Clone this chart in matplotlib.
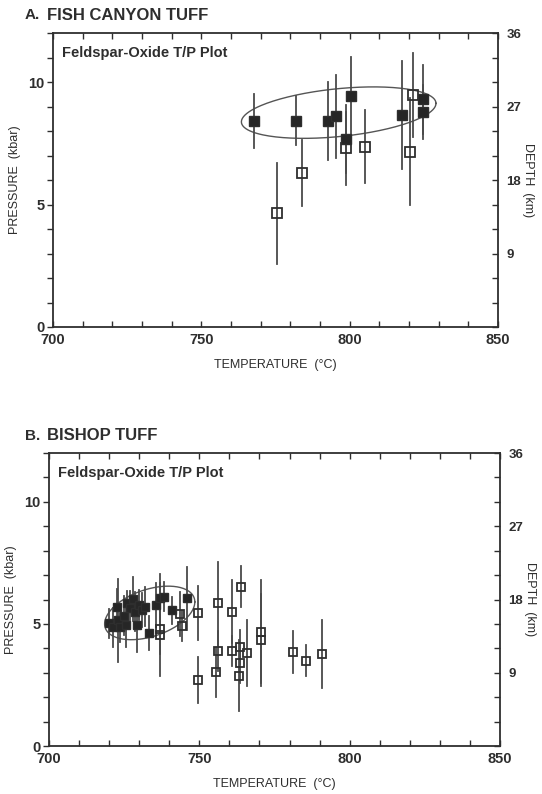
import numpy as np
import matplotlib
matplotlib.use("Agg")
import matplotlib.pyplot as plt
from matplotlib.ticker import FixedLocator, FuncFormatter

plt.rcParams["font.family"] = ["Liberation Sans", "DejaVu Sans"]
plt.rcParams["font.weight"] = "bold"

INK = "#2e2e2e"
BAR = "#4a4a4a"

# ---- panel A: Fish Canyon Tuff ----
a_fill_T = [767.8, 781.8, 792.7, 795.5, 800.6, 798.9, 817.6, 824.8, 824.8]
a_fill_P = [8.42, 8.42, 8.40, 8.60, 9.43, 7.67, 8.65, 9.29, 8.79]
a_fill_E = [1.1, 1.0, 1.6, 1.7, 1.6, 1.4, 2.2, 1.4, 1.1]

a_open_T = [821.5, 798.9, 805.0, 784.0, 775.6, 820.3]
a_open_P = [9.47, 7.29, 7.36, 6.27, 4.64, 7.16]
a_open_E = [1.7, 1.5, 1.5, 1.35, 2.05, 2.2]

# ellipse: centre T, centre P, half-width (degC), half-height (kbar), tilt (kbar/degC)
a_ell = (796.3, 8.75, 32.8, 0.98, 0.0115)

# ---- panel B: Bishop Tuff ----
b_fill_T = [720.1, 721.4, 722.6, 723.1, 723.7, 724.8, 725.7, 726.1, 727.0, 727.9,
            728.7, 729.2, 729.8, 730.9, 732.0, 733.1, 735.7, 737.0, 738.1, 740.9, 745.9]
b_fill_P = [5.03, 4.86, 5.71, 5.16, 4.86, 5.33, 4.96, 5.85, 5.64, 6.01,
            5.50, 4.96, 5.78, 5.57, 5.71, 4.62, 5.78, 6.05, 6.12, 5.55, 6.05]
b_fill_E = [0.6, 0.8, 0.7, 1.7, 0.6, 0.8, 0.9, 0.5, 0.7, 0.9,
            0.8, 1.1, 0.6, 0.7, 0.8, 0.7, 0.9, 1.0, 0.6, 0.55, 1.3]

b_open_T = [737.0, 737.0, 743.7, 744.4, 749.4, 749.4, 756.2, 756.2, 755.6, 760.7,
            763.7, 760.9, 763.4, 763.4, 763.3, 765.7, 770.6, 770.6, 781.1, 785.6, 790.7]
b_open_P = [4.78, 4.55, 5.41, 4.92, 5.46, 2.70, 5.85, 3.89, 3.02, 5.50,
            6.53, 3.89, 4.05, 3.39, 2.88, 3.80, 4.68, 4.34, 3.84, 3.50, 3.77]
b_open_E = [1.9, 0.8, 0.9, 0.6, 1.1, 0.95, 1.7, 0.8, 1.0, 1.3,
            0.85, 0.6, 0.7, 0.8, 1.45, 1.35, 2.1, 1.9, 0.85, 0.65, 1.4]

b_ell = (733.5, 5.45, 15.0, 1.0, 0.030)

x_ticks = list(range(700, 851, 10))
p_ticks = list(range(0, 13))
d_ticks = list(range(0, 37, 3))


def draw_panel(ax, fill, opn, ell, ms):
    for T, P, E in zip(*opn):
        ax.plot([T, T], [P - E, P + E], color=BAR, lw=1.3, zorder=2)
    for T, P, E in zip(*fill):
        ax.plot([T, T], [P - E, P + E], color=BAR, lw=1.3, zorder=2)
    ax.plot(opn[0], opn[1], ls="none", marker="s", ms=ms, mfc="none",
            mec=INK, mew=1.3, zorder=3)
    ax.plot(fill[0], fill[1], ls="none", marker="s", ms=ms, mfc="#262626",
            mec=INK, mew=1.0, zorder=4)

    cT, cP, hw, hh, tilt = ell
    t = np.linspace(0, 2 * np.pi, 200)
    dT = hw * np.cos(t)
    ax.plot(cT + dT, cP + tilt * dT + hh * np.sin(t), color="#555555", lw=1.0, zorder=1)

    ax.set_xlim(700, 850)
    ax.set_ylim(0, 12)
    ax.xaxis.set_major_locator(FixedLocator(x_ticks))
    ax.xaxis.set_major_formatter(FuncFormatter(lambda v, p: f"{v:.0f}" if v % 50 == 0 else ""))
    ax.yaxis.set_major_locator(FixedLocator(p_ticks))
    ax.yaxis.set_major_formatter(FuncFormatter(lambda v, p: f"{v:.0f}" if v in (0, 5, 10) else ""))
    ax.tick_params(axis="x", direction="in", length=4, width=1, color=INK, top=True,
                   labelsize=10.5, pad=4, labelcolor=INK)
    ax.tick_params(axis="y", direction="out", length=4, width=1, color=INK, right=False,
                   labelsize=10.5, pad=2, labelcolor=INK)
    for s in ax.spines.values():
        s.set_color(INK)
        s.set_linewidth(1.3)
    ax.set_xlabel("TEMPERATURE  (°C)", fontsize=9, color=INK, labelpad=9)
    ax.set_ylabel("PRESSURE  (kbar)", fontsize=9, color=INK, labelpad=5)
    ax.text(0.02, 0.955, "Feldspar-Oxide T/P Plot", transform=ax.transAxes,
            fontsize=10.5, color=INK, va="top", ha="left")

    ax2 = ax.twinx()
    ax2.set_ylim(0, 36)
    ax2.yaxis.set_major_locator(FixedLocator(d_ticks))
    ax2.yaxis.set_major_formatter(FuncFormatter(lambda v, p: f"{v:.0f}" if v in (9, 18, 27, 36) else ""))
    ax2.tick_params(axis="y", direction="in", length=4, width=1, color=INK,
                    labelsize=9.5, pad=6, labelcolor=INK)
    for s in ax2.spines.values():
        s.set_visible(False)
    ax2.set_ylabel("DEPTH  (km)", fontsize=9, color=INK, rotation=270, labelpad=9)
    return ax2


fig = plt.figure(figsize=(5.42, 7.94), dpi=100)
axA = fig.add_axes([53 / 542, 1 - 327 / 794, 445 / 542, 294 / 794])
axB = fig.add_axes([49 / 542, 1 - 746 / 794, 451 / 542, 293 / 794])

draw_panel(axA, (a_fill_T, a_fill_P, a_fill_E), (a_open_T, a_open_P, a_open_E), a_ell, 7.5)
draw_panel(axB, (b_fill_T, b_fill_P, b_fill_E), (b_open_T, b_open_P, b_open_E), b_ell, 6.0)

fig.text(25 / 542, 1 - 15 / 794, "A.", fontsize=11, color=INK, va="center")
fig.text(47 / 542, 1 - 15 / 794, "FISH CANYON TUFF", fontsize=12, color=INK, va="center")
fig.text(25 / 542, 1 - 436 / 794, "B.", fontsize=11, color=INK, va="center")
fig.text(47 / 542, 1 - 436 / 794, "BISHOP TUFF", fontsize=12, color=INK, va="center")

fig.savefig("out.png", dpi=100)
